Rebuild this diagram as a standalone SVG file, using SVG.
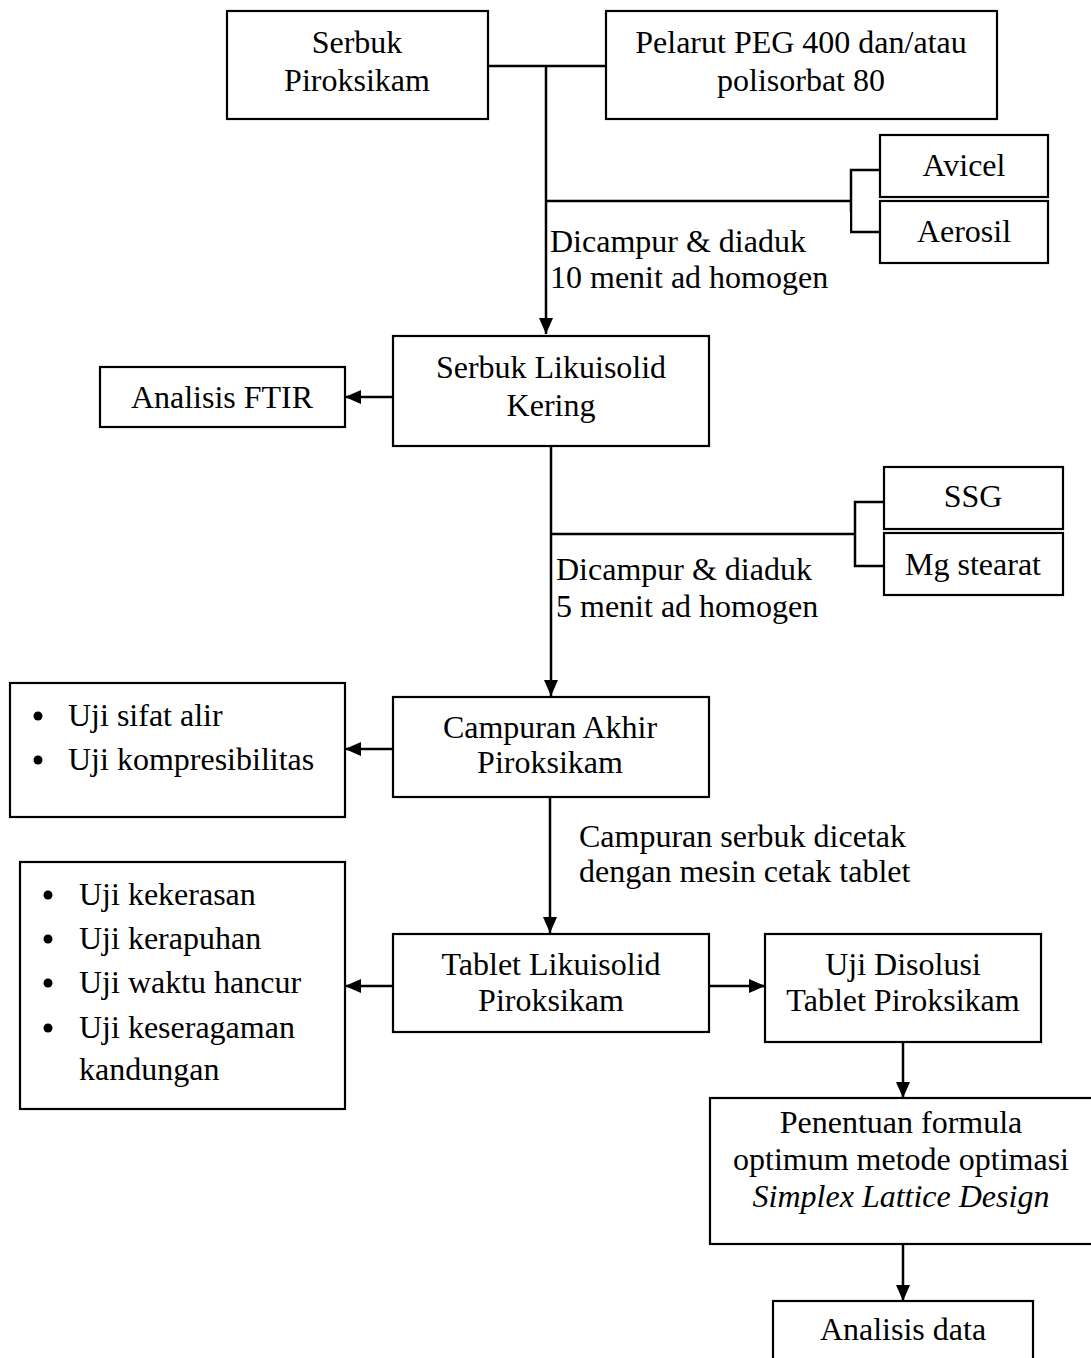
<svg xmlns="http://www.w3.org/2000/svg" width="1091" height="1358" viewBox="0 0 1091 1358">
<defs>
<style>
.box{fill:#fff;stroke:#000;stroke-width:2.2}
.t{font-family:"Liberation Serif","Times New Roman",serif;font-size:32px;fill:#000}
.c{text-anchor:middle}
.dot{fill:#000}
.ln{fill:none;stroke:#000;stroke-width:2.5}
.bg{fill:#fff;stroke:none}
</style>
<marker id="ah" viewBox="0 0 16 14" refX="16" refY="7" markerWidth="16" markerHeight="14" markerUnits="userSpaceOnUse" orient="auto">
<path d="M0,0 L16,7 L0,14 z" fill="#000"/>
</marker>
</defs>
<rect width="1091" height="1358" fill="#fff"/>

<g id="connectors">
<path class="ln" d="M488,66 H606"/>
<path class="ln" d="M546,66 V334" marker-end="url(#ah)"/>
<path class="ln" d="M546,201 H851"/>
<path class="ln" d="M880,170 H851 V232 H880"/>
<path class="ln" d="M393,397 H345" marker-end="url(#ah)"/>
<path class="ln" d="M551,446 V696" marker-end="url(#ah)"/>
<path class="ln" d="M551,534 H855"/>
<path class="ln" d="M884,502 H855 V566 H884"/>
<path class="ln" d="M393,749 H345" marker-end="url(#ah)"/>
<path class="ln" d="M550,797 V933" marker-end="url(#ah)"/>
<path class="ln" d="M393,986 H345" marker-end="url(#ah)"/>
<path class="ln" d="M709,986 H765" marker-end="url(#ah)"/>
<path class="ln" d="M903,1042 V1098" marker-end="url(#ah)"/>
<path class="ln" d="M903,1244 V1301" marker-end="url(#ah)"/>
</g>

<g id="label-campur1">
<rect class="bg" x="549" y="212" width="301" height="105"/>
<text class="t" x="550" y="252">Dicampur &amp; diaduk</text>
<text class="t" x="550" y="288">10 menit ad homogen</text>
</g>
<g id="label-campur2">
<rect class="bg" x="553" y="541" width="297" height="92"/>
<text class="t" x="556" y="580">Dicampur &amp; diaduk</text>
<text class="t" x="556" y="617">5 menit ad homogen</text>
</g>
<g id="label-cetak">
<rect class="bg" x="558" y="807" width="395" height="96"/>
<text class="t" x="579" y="847">Campuran serbuk dicetak</text>
<text class="t" x="579" y="882">dengan mesin cetak tablet</text>
</g>

<g id="serbuk-piroksikam">
<rect class="box" x="227" y="11" width="261" height="108"/>
<text class="t c" x="357" y="53">Serbuk</text>
<text class="t c" x="357" y="91">Piroksikam</text>
</g>
<g id="pelarut">
<rect class="box" x="606" y="11" width="391" height="108"/>
<text class="t c" x="801" y="53">Pelarut PEG 400 dan/atau</text>
<text class="t c" x="801" y="91">polisorbat 80</text>
</g>
<g id="avicel">
<rect class="box" x="880" y="135" width="168" height="62"/>
<text class="t c" x="964" y="176">Avicel</text>
</g>
<g id="aerosil">
<rect class="box" x="880" y="201" width="168" height="62"/>
<text class="t c" x="964" y="242">Aerosil</text>
</g>
<g id="serbuk-likuisolid">
<rect class="box" x="393" y="336" width="316" height="110"/>
<text class="t c" x="551" y="378">Serbuk Likuisolid</text>
<text class="t c" x="551" y="416">Kering</text>
</g>
<g id="analisis-ftir">
<rect class="box" x="100" y="367" width="245" height="60"/>
<text class="t c" x="222" y="408">Analisis FTIR</text>
</g>
<g id="ssg">
<rect class="box" x="884" y="467" width="179" height="62"/>
<text class="t c" x="973" y="507">SSG</text>
</g>
<g id="mg-stearat">
<rect class="box" x="884" y="533" width="179" height="62"/>
<text class="t c" x="973" y="575">Mg stearat</text>
</g>
<g id="campuran-akhir">
<rect class="box" x="393" y="697" width="316" height="100"/>
<text class="t c" x="550" y="738">Campuran Akhir</text>
<text class="t c" x="550" y="773">Piroksikam</text>
</g>
<g id="uji-alir">
<rect class="box" x="10" y="683" width="335" height="134"/>
<circle class="dot" cx="38" cy="716" r="4.5"/>
<text class="t" x="68" y="726">Uji sifat alir</text>
<circle class="dot" cx="38" cy="760" r="4.5"/>
<text class="t" x="68" y="770">Uji kompresibilitas</text>
</g>
<g id="tablet-likuisolid">
<rect class="box" x="393" y="934" width="316" height="98"/>
<text class="t c" x="551" y="975">Tablet Likuisolid</text>
<text class="t c" x="551" y="1011">Piroksikam</text>
</g>
<g id="uji-fisik">
<rect class="box" x="20" y="862" width="325" height="247"/>
<circle class="dot" cx="48" cy="895" r="4.5"/>
<text class="t" x="79" y="905">Uji kekerasan</text>
<circle class="dot" cx="48" cy="939" r="4.5"/>
<text class="t" x="79" y="949">Uji kerapuhan</text>
<circle class="dot" cx="48" cy="983" r="4.5"/>
<text class="t" x="79" y="993">Uji waktu hancur</text>
<circle class="dot" cx="48" cy="1028" r="4.5"/>
<text class="t" x="79" y="1038">Uji keseragaman</text>
<text class="t" x="79" y="1080">kandungan</text>
</g>
<g id="uji-disolusi">
<rect class="box" x="765" y="934" width="276" height="108"/>
<text class="t c" x="903" y="975">Uji Disolusi</text>
<text class="t c" x="903" y="1011">Tablet Piroksikam</text>
</g>
<g id="penentuan-formula">
<rect class="box" x="710" y="1098" width="390" height="146"/>
<text class="t c" x="901" y="1133">Penentuan formula</text>
<text class="t c" x="901" y="1170">optimum metode optimasi</text>
<text class="t c" x="901" y="1207" font-style="italic">Simplex Lattice Design</text>
</g>
<g id="analisis-data">
<rect class="box" x="773" y="1301" width="260" height="70"/>
<text class="t c" x="903" y="1340">Analisis data</text>
</g>
</svg>
